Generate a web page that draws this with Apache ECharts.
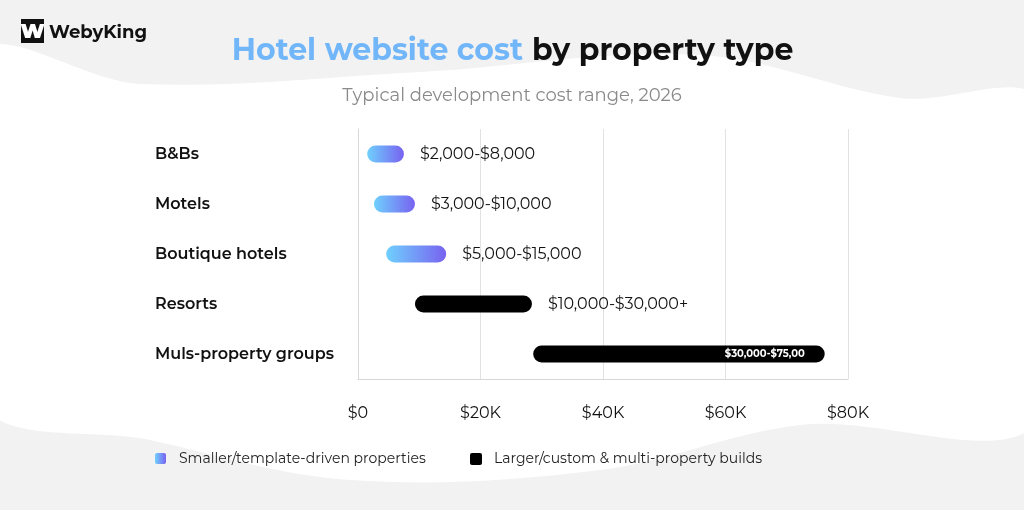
<!DOCTYPE html>
<html><head><meta charset="utf-8">
<script src="https://cdn.jsdelivr.net/npm/echarts@6/dist/echarts.min.js"></script>
<style>html,body{margin:0;padding:0;background:#f2f2f2}#c{width:1024px;height:510px}</style>
</head><body><div id="c"></div>
<script>
var categories = ['B&Bs','Motels','Boutique hotels','Resorts','Muls-property groups'];
var rangeStart = [1500, 2600, 4600, 9300, 28600];
var rangeEnd = [7500, 9300, 14400, 28400, 76200];
var rangeLabels = ['$2,000-$8,000','$3,000-$10,000','$5,000-$15,000','$10,000-$30,000+','$30,000-$75,00'];
var groups = ['small','small','small','large','large'];
var tickLabels = {0:'$0',20000:'$20K',40000:'$40K',60000:'$60K',80000:'$80K'};
var FONT = 'Montserrat, Inter, "Noto Sans", sans-serif';
var grad = {type:'linear',x:0,y:0,x2:1,y2:0,colorStops:[{offset:0,color:'#6fd0fd'},{offset:1,color:'#7862f0'}]};
var chart = echarts.init(document.getElementById('c'));
chart.setOption({
  backgroundColor:'#f2f2f2',
  animation:false,
  graphic:[
    {type:'polygon',z:-10,shape:{smooth:0.35,points:[[-20,55],[140,84],[420,72],[700,55],[900,98],[1040,102],[1040,420],[800,425],[600,470],[350,480],[150,440],[-20,400]]},style:{fill:'#ffffff'}},
    {type:'rect',shape:{x:21,y:19,width:23,height:24},style:{fill:'#111'}},
    {type:'text',x:32.5,y:32,style:{text:'W',fill:'#fff',font:'900 20px '+FONT,textAlign:'center',textVerticalAlign:'middle'}},
    {type:'text',x:49,y:33,style:{text:'WebyKing',fill:'#111',font:'bold 18px '+FONT,textVerticalAlign:'middle'}},
    {type:'text',x:523,y:51,style:{text:'Hotel website cost',fill:'#72b6fa',font:'bold 30px '+FONT,textAlign:'right',textVerticalAlign:'middle'}},
    {type:'text',x:532,y:51,style:{text:'by property type',fill:'#111',font:'bold 30px '+FONT,textAlign:'left',textVerticalAlign:'middle'}},
    {type:'text',x:512,y:96,style:{text:'Typical development cost range, 2026',fill:'#8a8a8a',font:'18px '+FONT,textAlign:'center',textVerticalAlign:'middle'}},
    {type:'rect',shape:{x:155,y:453,width:11,height:11,r:2},style:{fill:grad}},
    {type:'text',x:179,y:459,style:{text:'Smaller/template-driven properties',fill:'#222',font:'14px '+FONT,textVerticalAlign:'middle'}},
    {type:'rect',shape:{x:470,y:453,width:12,height:12,r:2},style:{fill:'#000'}},
    {type:'text',x:494,y:459,style:{text:'Larger/custom & multi-property builds',fill:'#222',font:'14px '+FONT,textVerticalAlign:'middle'}}
  ],
  grid:{left:358,right:176,top:129,height:250},
  xAxis:{type:'value',min:0,max:80000,interval:20000,
    axisLine:{show:true,lineStyle:{color:'#d8d8d8'}},axisTick:{show:false},
    splitLine:{lineStyle:{color:'#e2e2e2'}},
    axisLabel:{color:'#111',fontSize:16,fontFamily:FONT,margin:26,formatter:function(v){return tickLabels[v];}}},
  yAxis:{type:'category',inverse:true,data:categories,
    axisLine:{show:true,lineStyle:{color:'#d8d8d8'}},axisTick:{show:false},
    axisLabel:{color:'#111',fontSize:16,fontWeight:600,fontFamily:FONT,align:'left',margin:203}},
  series:[
    {type:'bar',stack:'r',data:rangeStart,itemStyle:{color:'transparent'},barWidth:17,silent:true},
    {type:'bar',stack:'r',barWidth:17,
      data:rangeEnd.map(function(e,i){
        var big = groups[i]==='large';
        var last = i===categories.length-1;
        return {value:e-rangeStart[i],
          itemStyle:{color:big?'#000':grad,borderRadius:9},
          label:{show:true,formatter:rangeLabels[i],position:last?'insideRight':'right',distance:last?20:16,
            color:last?'#fff':'#111',fontSize:last?10:16,fontWeight:last?'bold':'normal',fontFamily:FONT}};
      })}
  ]
});
</script></body></html>
